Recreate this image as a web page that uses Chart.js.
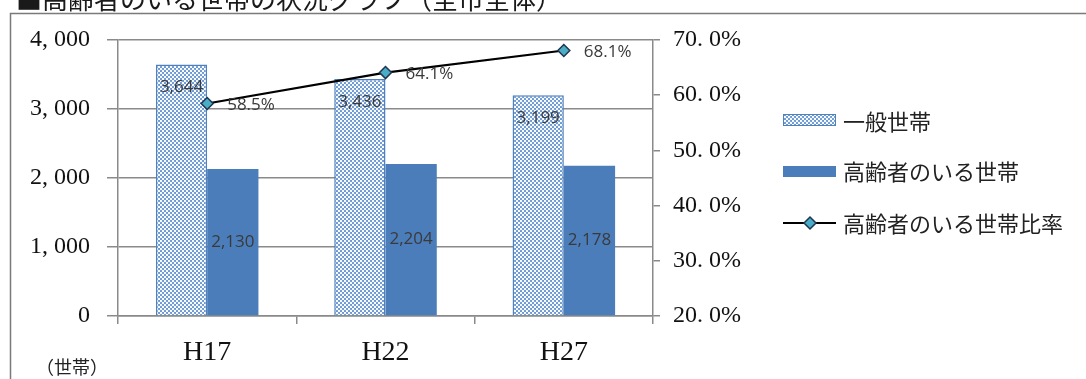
<!DOCTYPE html>
<html lang="ja">
<head>
<meta charset="utf-8">
<script src="https://cdn.jsdelivr.net/npm/chart.js@4.4.1/dist/chart.umd.min.js"></script>
<style>
  html, body { margin: 0; padding: 0; background: #ffffff; }
  #wrap { position: relative; width: 1086px; height: 379px; }
</style>
</head>
<body>
<div id="wrap"><canvas id="c" width="1086" height="379"></canvas></div>
<script>
// 年次
const categories = ['H17', 'H22', 'H27'];
// 一般世帯数
const generalHouseholds = [3644, 3436, 3199];
// 高齢者のいる世帯数
const elderlyHouseholds = [2130, 2204, 2178];
// 高齢者のいる世帯比率（%）
const elderlyRatio = [58.5, 64.1, 68.1];
// 目盛り
const countTicks = [0, 1000, 2000, 3000, 4000];
const ratioTicks = [20, 30, 40, 50, 60, 70];

const seriesNames = ['一般世帯', '高齢者のいる世帯', '高齢者のいる世帯比率'];
const titleText = '■高齢者のいる世帯の状況グラフ（全市全体）';
const unitText = '（世帯）';

const canvas = document.getElementById('c');
const ctx = canvas.getContext('2d');

// 網掛け（白い点）の塗りパターン
function makeDotPattern() {
  const t = document.createElement('canvas');
  t.width = 4; t.height = 4;
  const g = t.getContext('2d');
  g.fillStyle = '#6b98d4';
  g.fillRect(0, 0, 4, 4);
  g.fillStyle = '#ffffff';
  g.beginPath();
  g.arc(1, 1, 1.15, 0, Math.PI * 2);
  g.arc(3, 3, 1.15, 0, Math.PI * 2);
  g.fill();
  return ctx.createPattern(t, 'repeat');
}
const dotPattern = makeDotPattern();

const BAR_BORDER = '#4f81bd';
const BAR_SOLID = '#4a7dba';
const GRID = '#8a8a8a';
const LABEL_COLOR = '#3a3a3a';
const SERIF = '"Liberation Serif", "DejaVu Serif", serif';
const SANS = '"Open Sans", "Liberation Sans", sans-serif';
const CJK = '"Noto Sans CJK JP", sans-serif';

function fmtCount(v) {
  const s = Math.round(v).toString();
  return s.length > 3 ? s.slice(0, -3) + ', ' + s.slice(-3) : s;
}
function fmtRatioTick(v) {
  return v.toFixed(1).replace('.', '. ') + '%';
}

// 枠・タイトル・凡例・値ラベル
const decorations = {
  id: 'decorations',
  afterDatasetsDraw(chart) {
    const c = chart.ctx;
    c.save();

    // 値ラベル（棒）
    c.font = '17px ' + SANS;
    c.fillStyle = LABEL_COLOR;
    c.textAlign = 'center';
    c.textBaseline = 'middle';
    const m0 = chart.getDatasetMeta(0);
    m0.data.forEach((el, i) => {
      c.fillText(generalHouseholds[i].toLocaleString('en-US'), el.x, el.y + 23);
    });
    const m1 = chart.getDatasetMeta(1);
    m1.data.forEach((el, i) => {
      c.fillText(elderlyHouseholds[i].toLocaleString('en-US'), el.x, (el.y + el.base) / 2);
    });
    // 値ラベル（比率）
    c.textAlign = 'left';
    const m2 = chart.getDatasetMeta(2);
    m2.data.forEach((el, i) => {
      c.fillText(elderlyRatio[i].toFixed(1) + '%', el.x + 20, el.y + 2);
    });
    c.restore();
  },
  afterDraw(chart) {
    const c = chart.ctx;
    c.save();

    // グラフ外枠
    c.strokeStyle = '#7a7a7a';
    c.lineWidth = 1.5;
    c.beginPath();
    c.moveTo(10.5, 379);
    c.lineTo(10.5, 13.5);
    c.lineTo(1086, 13.5);
    c.stroke();

    // タイトル（上端）
    c.fillStyle = '#1a1a1a';
    c.font = '26px ' + CJK;
    c.textAlign = 'left';
    c.textBaseline = 'alphabetic';
    c.fillText(titleText, 16, 9);

    // 単位
    c.fillStyle = '#222222';
    c.font = '18px ' + CJK;
    c.textAlign = 'left';
    c.textBaseline = 'middle';
    c.fillText(unitText, 36, 367);

    // 凡例
    const sx = 783, sw = 53, tx = 843;
    c.font = '22px ' + CJK;
    c.textBaseline = 'middle';
    c.fillStyle = dotPattern;
    c.fillRect(sx, 114, sw, 12);
    c.strokeStyle = BAR_BORDER;
    c.lineWidth = 1;
    c.strokeRect(sx + 0.5, 114.5, sw - 1, 11);
    c.fillStyle = '#222222';
    c.fillText(seriesNames[0], tx, 122);

    c.fillStyle = BAR_SOLID;
    c.fillRect(sx, 166, sw, 11);
    c.fillStyle = '#222222';
    c.fillText(seriesNames[1], tx, 172);

    c.strokeStyle = '#000000';
    c.lineWidth = 2;
    c.beginPath();
    c.moveTo(sx, 223);
    c.lineTo(sx + sw, 223);
    c.stroke();
    c.beginPath();
    c.moveTo(810 - 6, 223);
    c.lineTo(810, 223 - 6);
    c.lineTo(810 + 6, 223);
    c.lineTo(810, 223 + 6);
    c.closePath();
    c.fillStyle = '#4bacc6';
    c.fill();
    c.lineWidth = 1.5;
    c.strokeStyle = '#1f3550';
    c.stroke();
    c.fillStyle = '#222222';
    c.fillText(seriesNames[2], tx, 224);

    c.restore();
  }
};

new Chart(canvas, {
  data: {
    labels: categories,
    datasets: [
      {
        type: 'bar',
        label: seriesNames[0],
        data: generalHouseholds,
        backgroundColor: dotPattern,
        borderColor: BAR_BORDER,
        borderWidth: 1.5,
        yAxisID: 'y',
        order: 2,
        categoryPercentage: 0.575,
        barPercentage: 1.0
      },
      {
        type: 'bar',
        label: seriesNames[1],
        data: elderlyHouseholds,
        backgroundColor: BAR_SOLID,
        borderWidth: 0,
        yAxisID: 'y',
        order: 2,
        categoryPercentage: 0.575,
        barPercentage: 1.0
      },
      {
        type: 'line',
        label: seriesNames[2],
        data: elderlyRatio,
        borderColor: '#000000',
        borderWidth: 2.2,
        pointStyle: 'rectRot',
        pointRadius: 6,
        pointBackgroundColor: '#4bacc6',
        pointBorderColor: '#1f3550',
        pointBorderWidth: 1.5,
        yAxisID: 'y1',
        order: 1,
        tension: 0
      }
    ]
  },
  options: {
    responsive: false,
    animation: false,
    events: [],
    layout: { padding: { left: 0, right: 333, top: 40, bottom: 0 } },
    plugins: {
      legend: { display: false },
      tooltip: { enabled: false },
      title: { display: false }
    },
    scales: {
      x: {
        offset: true,
        grid: {
          offset: true,
          drawOnChartArea: false,
          tickLength: 8,
          color: GRID,
          lineWidth: 1.5
        },
        border: { color: GRID, width: 1.5 },
        ticks: {
          color: '#111111',
          font: { family: SERIF, size: 28 },
          padding: 12
        },
        afterFit(scale) { scale.height = 63; }
      },
      y: {
        position: 'left',
        min: countTicks[0],
        max: countTicks[countTicks.length - 1],
        afterBuildTicks(scale) { scale.ticks = countTicks.map(v => ({ value: v })); },
        grid: { color: GRID, lineWidth: 1.5, tickLength: 11 },
        border: { color: GRID, width: 1.5 },
        ticks: {
          color: '#111111',
          font: { family: SERIF, size: 24 },
          padding: 17,
          callback: v => fmtCount(v)
        },
        afterFit(scale) { scale.width = 118; }
      },
      y1: {
        position: 'right',
        min: ratioTicks[0],
        max: ratioTicks[ratioTicks.length - 1],
        afterBuildTicks(scale) { scale.ticks = ratioTicks.map(v => ({ value: v })); },
        grid: { drawOnChartArea: false, color: GRID, lineWidth: 1.5, tickLength: 7 },
        border: { color: GRID, width: 1.5 },
        ticks: {
          color: '#111111',
          font: { family: SERIF, size: 24 },
          padding: 13,
          callback: v => fmtRatioTick(v)
        },
        afterFit(scale) { scale.width = 100; }
      }
    }
  },
  plugins: [decorations]
});
</script>
</body>
</html>
